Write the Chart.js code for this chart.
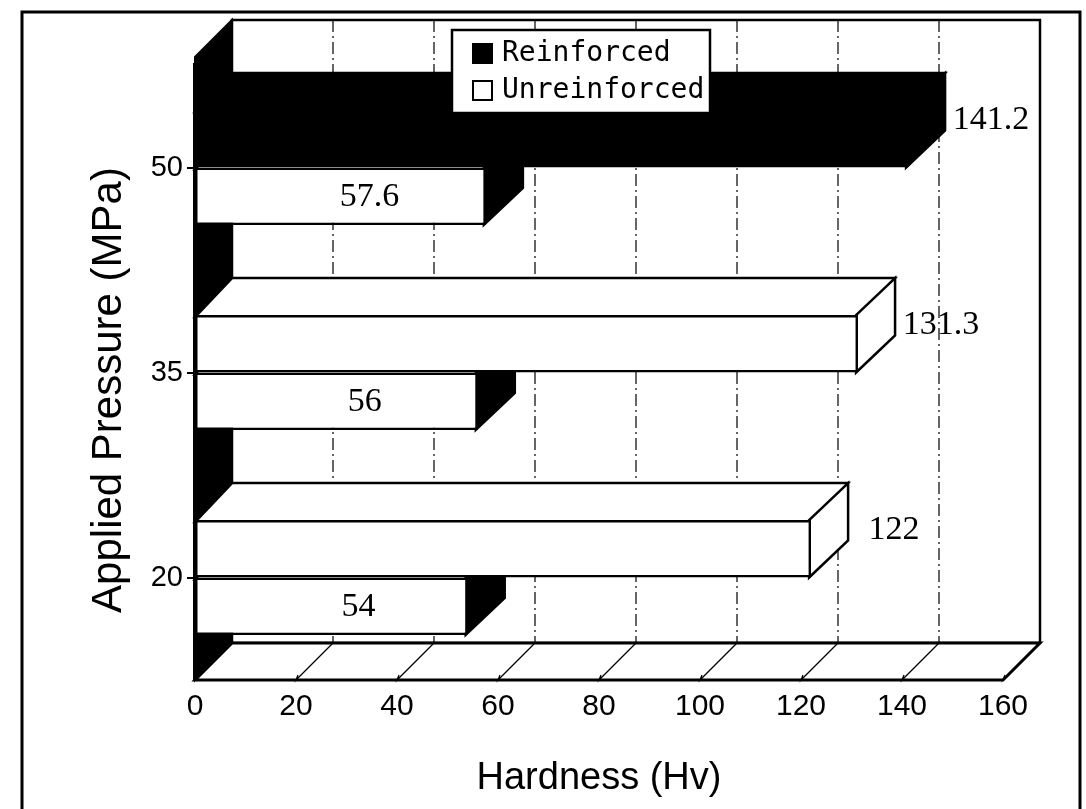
<!DOCTYPE html>
<html>
<head>
<meta charset="utf-8">
<script src="https://cdn.jsdelivr.net/npm/chart.js@4/dist/chart.umd.min.js"></script>
<style>
html,body{margin:0;padding:0;background:#fff}
#wrap{width:1086px;height:809px;position:relative}
</style>
</head>
<body>
<div id="wrap"><canvas id="c"></canvas></div>
<script>
// ---- data ----
const categories = ['50', '35', '20'];
const reinforced = [141.2, 131.3, 122];
const unreinforced = [57.6, 56, 54];
const seriesNames = ['Reinforced', 'Unreinforced'];
const xTickValues = [0, 20, 40, 60, 80, 100, 120, 140, 160];
const xTitle = 'Hardness (Hv)';
const yTitle = 'Applied Pressure (MPa)';

// ---- style ----
const DX = 37, DY = -37;       // 3D depth offset
const WALL_EXTRA = 8;          // plot box extends above chart area

function poly(ctx, pts, fill, stroke, lw) {
  ctx.beginPath();
  ctx.moveTo(pts[0][0], pts[0][1]);
  for (let i = 1; i < pts.length; i++) ctx.lineTo(pts[i][0], pts[i][1]);
  ctx.closePath();
  if (fill) { ctx.fillStyle = fill; ctx.fill(); }
  if (stroke) { ctx.strokeStyle = stroke; ctx.lineWidth = lw || 2; ctx.stroke(); }
}

const framePlugin = {
  id: 'frame',
  afterDraw(chart) {
    const ctx = chart.ctx;
    ctx.save();
    ctx.strokeStyle = '#000';
    ctx.lineWidth = 3;
    ctx.beginPath();
    ctx.moveTo(22, 815); ctx.lineTo(22, 12); ctx.lineTo(1080, 12); ctx.lineTo(1080, 815);
    ctx.stroke();
    ctx.restore();
  }
};

const box3dPlugin = {
  id: 'box3d',
  beforeDatasetsDraw(chart) {
    const ctx = chart.ctx, a = chart.chartArea, x = chart.scales.x;
    const fTop = a.top - WALL_EXTRA;
    ctx.save();
    // back wall
    poly(ctx, [[a.left + DX, fTop + DY], [a.right + DX, fTop + DY], [a.right + DX, a.bottom + DY], [a.left + DX, a.bottom + DY]], '#fff', '#000', 2.5);
    // back-wall gridlines
    ctx.save();
    ctx.setLineDash([12, 4, 2, 4]);
    ctx.strokeStyle = '#000';
    ctx.lineWidth = 1.2;
    x.ticks.forEach((t, i) => {
      if (i === 0 || i === x.ticks.length - 1) return;
      const px = x.getPixelForValue(t.value) + DX;
      ctx.beginPath();
      ctx.moveTo(px, fTop + DY);
      ctx.lineTo(px, a.bottom + DY);
      ctx.stroke();
    });
    ctx.restore();
    // floor
    poly(ctx, [[a.left, a.bottom], [a.right, a.bottom], [a.right + DX, a.bottom + DY], [a.left + DX, a.bottom + DY]], '#fff', '#000', 3);
    ctx.strokeStyle = '#000';
    ctx.lineWidth = 1.3;
    x.ticks.forEach((t, i) => {
      if (i === 0) return;
      const px = x.getPixelForValue(t.value);
      ctx.beginPath();
      ctx.moveTo(px + DX, a.bottom + DY);
      ctx.lineTo(px, a.bottom);
      ctx.lineTo(px + 2, a.bottom - 5);
      ctx.stroke();
    });
    // left wall
    poly(ctx, [[a.left, a.bottom], [a.left + DX, a.bottom + DY], [a.left + DX, fTop + DY], [a.left, fTop]], '#000', '#000', 2);
    // bar depth faces
    chart.data.datasets.forEach((ds, di) => {
      const meta = chart.getDatasetMeta(di);
      meta.data.forEach((el, i) => {
        const top = el.y - el.height / 2, bot = el.y + el.height / 2;
        const col = Array.isArray(ds.backgroundColor) ? ds.backgroundColor[i] : ds.backgroundColor;
        const sideCol = di === 0 ? col : '#000';
        // top face
        poly(ctx, [[el.base, top + 2], [el.x, top + 2], [el.x + DX, top + DY], [el.base + DX, top + DY]], col, '#000', 2.5);
        // side face
        poly(ctx, [[el.x - 2, top], [el.x + DX, top + DY], [el.x + DX, bot + DY], [el.x - 2, bot]], sideCol, '#000', 2.5);
      });
    });
    ctx.restore();
  },
  afterDatasetsDraw(chart) {
    const ctx = chart.ctx;
    ctx.save();
    ctx.fillStyle = '#000';
    ctx.font = '34px "Liberation Serif", "Times New Roman", serif';
    ctx.textAlign = 'center';
    ctx.textBaseline = 'middle';
    chart.data.datasets.forEach((ds, di) => {
      const meta = chart.getDatasetMeta(di);
      meta.data.forEach((el, i) => {
        const v = ds.data[i];
        if (di === 0) {
          ctx.fillText(String(v), el.x + DX + 46, el.y + DY / 2);
        } else {
          ctx.fillText(String(v), el.base + 0.6 * (el.x - el.base), el.y + 1);
        }
      });
    });
    ctx.restore();
  },
  afterDraw(chart) {
    // legend box
    const ctx = chart.ctx;
    const bx = 452, by = 30, bw = 258, bh = 83;
    ctx.save();
    ctx.fillStyle = '#fff';
    ctx.fillRect(bx, by, bw, bh);
    ctx.strokeStyle = '#000';
    ctx.lineWidth = 2.5;
    ctx.strokeRect(bx, by, bw, bh);
    ctx.font = '28px "DejaVu Sans Mono", monospace';
    ctx.textAlign = 'left';
    ctx.textBaseline = 'middle';
    chart.data.datasets.forEach((ds, di) => {
      const cy = by + 24 + di * 37;
      const col = Array.isArray(ds.backgroundColor) ? ds.backgroundColor[0] : ds.backgroundColor;
      ctx.fillStyle = col;
      ctx.fillRect(bx + 21, cy - 10, 19, 19);
      ctx.lineWidth = 2;
      ctx.strokeStyle = '#000';
      ctx.strokeRect(bx + 21, cy - 10, 19, 19);
      ctx.fillStyle = '#000';
      ctx.fillText(ds.label, bx + 50, cy);
    });
    ctx.restore();
  }
};

new Chart(document.getElementById('c'), {
  type: 'bar',
  data: {
    labels: categories,
    datasets: [
      {
        label: seriesNames[0],
        data: reinforced,
        backgroundColor: ['#000', '#fff', '#fff'],
        borderColor: '#000',
        borderWidth: 2.5,
        borderSkipped: false,
        categoryPercentage: 0.56,
        barPercentage: 1.0
      },
      {
        label: seriesNames[1],
        data: unreinforced,
        backgroundColor: '#fff',
        borderColor: '#000',
        borderWidth: 2.5,
        borderSkipped: false,
        categoryPercentage: 0.56,
        barPercentage: 1.0
      }
    ]
  },
  options: {
    indexAxis: 'y',
    responsive: true,
    maintainAspectRatio: false,
    animation: false,
    events: [],
    layout: { padding: { left: 84, top: 65, right: 83, bottom: 8 } },
    plugins: {
      legend: { display: false },
      title: { display: false },
      tooltip: { enabled: false }
    },
    scales: {
      x: {
        type: 'linear',
        min: xTickValues[0],
        max: xTickValues[xTickValues.length - 1],
        afterBuildTicks(scale) { scale.ticks = xTickValues.map(v => ({ value: v })); },
        grid: { display: false, drawTicks: false },
        border: { display: false },
        ticks: {
          color: '#000',
          padding: 9,
          font: { family: '"Liberation Sans", Arial, sans-serif', size: 30 }
        },
        title: {
          display: true,
          text: xTitle,
          color: '#000',
          padding: 0,
          font: { family: '"Liberation Sans", Arial, sans-serif', size: 38 }
        },
        afterFit(scale) { scale.height = 121; }
      },
      y: {
        type: 'category',
        grid: {
          display: true,
          drawOnChartArea: false,
          drawTicks: true,
          tickLength: 8,
          offset: false,
          color: '#000',
          lineWidth: 2
        },
        border: { display: true, color: '#000', width: 4 },
        ticks: {
          color: '#000',
          padding: 4,
          font: { family: '"Liberation Sans", Arial, sans-serif', size: 29 }
        },
        title: {
          display: true,
          text: yTitle + '   ',
          color: '#000',
          padding: 0,
          font: { family: '"Liberation Sans", Arial, sans-serif', size: 42 }
        },
        afterFit(scale) { scale.width = 111; }
      }
    }
  },
  plugins: [box3dPlugin, framePlugin]
});
</script>
</body>
</html>
